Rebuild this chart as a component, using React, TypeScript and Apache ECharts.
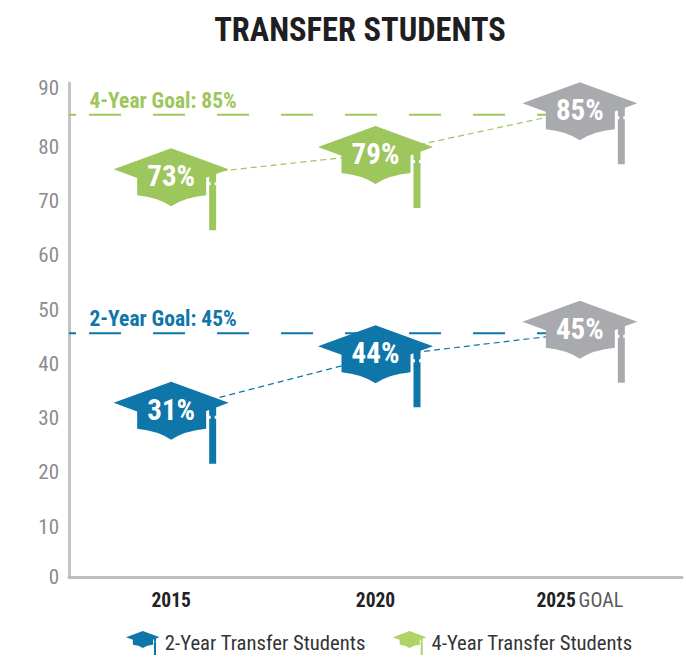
import React, { useEffect, useRef } from "react";
import * as echarts from "echarts";

const categories = ["2015", "2020", "2025"];
const yAxisMax = 91;
const twoYearLabels = ["31%", "44%", "45%"];
const fourYearLabels = ["73%", "79%", "85%"];
// plotted positions of the dashed connecting lines
const twoYearValues = [30.8, 40.5, 45];
const fourYearValues = [73.8, 77.9, 86];
const twoYearOffsets = [13, 9, 9];
const fourYearOffsets = [13, 13, 13];
const twoYearGoal = 44.9;
const fourYearGoal = 85.17;
const goalEnd = 2.354;

const FONT = '"Roboto Condensed", "Liberation Sans", sans-serif';
const BLUE = "#0f76a9";
const GREEN = "#9dc65c";
const GREEN_LIGHT = "#afd465";
const GRAY = "#a9aaae";
const GOAL_DASH = [7, 13, ...new Array(16).fill(32)];

const HAT =
  "path://M57.5 0L115 21L102.5 25.6V34H101V37H102.5V82H95.5V37H97V34H95.5V28.2L92.5 29.3V47Q71 49 57.5 58Q44 49 23.5 47V29.6L0 21Z";

function hatSeries(name: string, color: string, values: number[], labels: string[], offsets: number[]) {
  return {
    name,
    type: "line",
    z: 3,
    symbol: HAT,
    symbolSize: [115, 82],
    showAllSymbol: true,
    itemStyle: { color },
    lineStyle: { color, width: 1.2, type: [6, 4] },
    label: {
      show: true,
      position: "inside",
      color: "#fff",
      fontFamily: FONT,
      fontWeight: "bold",
      fontSize: 29,
    },
    data: values.map((v, i) => ({
      value: v,
      symbolOffset: [0, offsets[i]],
      itemStyle: { color: i === 2 ? GRAY : color },
      label: { formatter: labels[i], offset: [0, -13] },
    })),
    silent: true,
  };
}

function goalSeries(name: string, color: string, goal: number, text: string) {
  return {
    name,
    type: "line",
    z: 1,
    xAxisIndex: 1,
    symbol: "circle",
    symbolSize: 1,
    showSymbol: true,
    lineStyle: { color, width: 2, type: GOAL_DASH },
    itemStyle: { color: "transparent" },
    data: [
      {
        value: [0, goal],
        label: {
          show: true,
          position: [21, -25],
          formatter: text,
          color,
          fontFamily: FONT,
          fontWeight: "bold",
          fontSize: 21.5,
        },
      },
      { value: [goalEnd, goal] },
    ],
    silent: true,
  };
}

export default function App() {
  const ref = useRef<HTMLDivElement>(null);
  useEffect(() => {
    const chart = echarts.init(ref.current!, null, { renderer: "svg" });
    chart.setOption({
      animation: false,
      title: {
        text: "TRANSFER STUDENTS",
        left: 355,
        top: 8,
        textAlign: "center",
        textStyle: { fontFamily: FONT, fontWeight: "bold", fontSize: 32.5, color: "#1f1f21" },
      },
      grid: { left: 69, right: 4, top: 83, bottom: 83 },
      legend: {
        left: 121,
        top: 626,
        itemWidth: 34,
        itemHeight: 24,
        itemGap: 27,
        selectedMode: false,
        textStyle: { fontFamily: FONT, fontSize: 20.7, color: "#333436" },
        data: [
          { name: "2-Year Transfer Students", icon: HAT, itemStyle: { color: BLUE } },
          { name: "4-Year Transfer Students", icon: HAT, itemStyle: { color: GREEN_LIGHT } },
        ],
      },
      xAxis: [
        {
          type: "category",
          data: categories,
          axisLine: { lineStyle: { color: "#bdbdc1", width: 3 } },
          axisTick: { show: false },
          axisLabel: {
            margin: 13,
            fontFamily: FONT,
            formatter: (v: string) => (v === "2025" ? `{b|${v}} {g|GOAL}` : `{b|${v}}`),
            rich: {
              b: { fontFamily: FONT, fontWeight: "bold", fontSize: 19.5, color: "#222224" },
              g: { fontFamily: FONT, fontSize: 20, color: "#58595b" },
            },
          },
        },
        { type: "value", show: false, min: 0, max: 3 },
      ],
      yAxis: {
        type: "value",
        min: 0,
        max: yAxisMax,
        interval: 10,
        axisLine: { show: true, lineStyle: { color: "#c4c4c8", width: 3 } },
        axisTick: { show: false },
        splitLine: { show: false },
        axisLabel: {
          margin: 10,
          fontFamily: FONT,
          fontSize: 21,
          color: "#8b8c8f",
          formatter: (v: number) =>
            v > 90 ? "" : v === 0 || v === 90 ? `{p|${v}}` : `{s|${v}}`,
          rich: {
            p: { fontFamily: FONT, fontSize: 21, color: "#8b8c8f" },
            s: { fontFamily: FONT, fontSize: 21, color: "#8b8c8f", padding: [8, 0, 0, 0] },
          },
        },
      },
      series: [
        goalSeries("2-Year Goal", BLUE, twoYearGoal, "2-Year Goal: 45%"),
        goalSeries("4-Year Goal", GREEN, fourYearGoal, "4-Year Goal: 85%"),
        hatSeries("2-Year Transfer Students", BLUE, twoYearValues, twoYearLabels, twoYearOffsets),
        hatSeries("4-Year Transfer Students", GREEN, fourYearValues, fourYearLabels, fourYearOffsets),
      ],
    });
    return () => chart.dispose();
  }, []);
  return <div ref={ref} style={{ position: "absolute", left: 0, top: 0, width: 686, height: 660 }} />;
}
